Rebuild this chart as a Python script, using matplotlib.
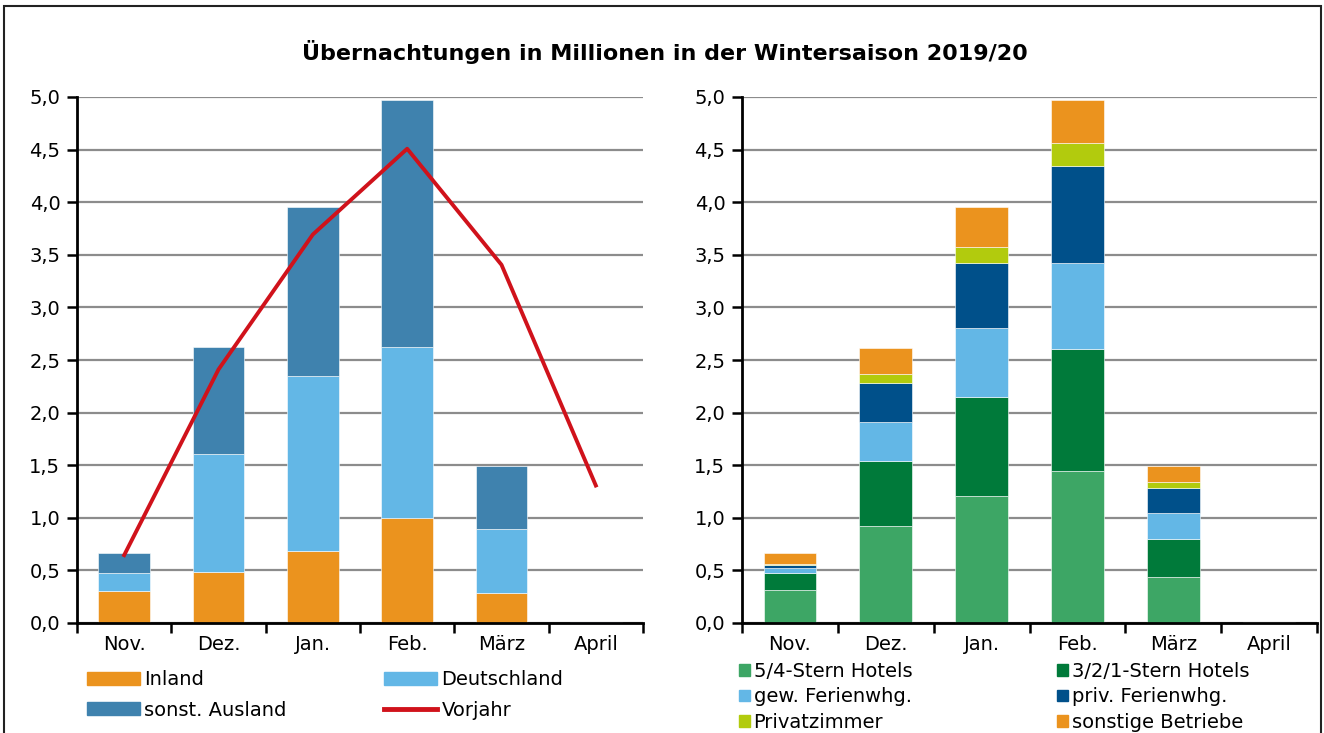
import numpy as np
import matplotlib
matplotlib.use("Agg")
import matplotlib.pyplot as plt
from matplotlib.patches import Patch, Rectangle
from matplotlib.lines import Line2D
from matplotlib.ticker import FuncFormatter, FixedLocator

plt.rcParams['font.family'] = ['DejaVu Sans']

monate = ["Nov.", "Dez.", "Jan.", "Feb.", "März", "April"]

# linke Grafik: Herkunft
inland = [0.305, 0.485, 0.686, 1.001, 0.282, 0.003]
deutschland = [0.167, 1.121, 1.663, 1.619, 0.611, 0.005]
sonst_ausland = [0.190, 1.014, 1.606, 2.350, 0.601, 0.004]
vorjahr = [0.645, 2.41, 3.693, 4.508, 3.405, 1.307]

# rechte Grafik: Unterkunftsart
stern54 = [0.318, 0.923, 1.207, 1.444, 0.439, 0.003]
stern321 = [0.159, 0.615, 0.946, 1.156, 0.355, 0.002]
gew_fewo = [0.047, 0.369, 0.653, 0.821, 0.251, 0.002]
priv_fewo = [0.027, 0.375, 0.619, 0.923, 0.236, 0.001]
privatzimmer = [0.014, 0.088, 0.145, 0.217, 0.058, 0.001]
sonstige = [0.098, 0.247, 0.385, 0.415, 0.155, 0.003]

c_orange = "#EB931E"
c_hblau = "#63B7E6"
c_blau = "#3F82AE"
c_rot = "#D0121B"
c_gruen = "#3DA665"
c_dgruen = "#007A3A"
c_dblau = "#00508A"
c_lime = "#B2CB0D"

W, H = 1324, 733
fig = plt.figure(figsize=(W / 100, H / 100), dpi=100)

def px(x0, y0, x1, y1):
    return [x0 / W, 1 - y1 / H, (x1 - x0) / W, (y1 - y0) / H]

ax1 = fig.add_axes(px(77, 97, 643, 623))
ax2 = fig.add_axes(px(742, 97, 1317, 623))

x = np.arange(len(monate))
bw = 0.55

def style(ax):
    ax.set_xlim(-0.5, len(monate) - 0.5)
    ax.set_ylim(0, 5)
    ax.set_yticks(np.arange(0, 5.01, 0.5))
    ax.yaxis.set_major_formatter(FuncFormatter(lambda v, p: f"{v:.1f}".replace(".", ",")))
    ax.xaxis.set_major_locator(FixedLocator(np.arange(-0.5, len(monate), 1.0)))
    ax.xaxis.set_minor_locator(FixedLocator(x))
    ax.set_xticklabels([])
    ax.set_xticklabels(monate, minor=True)
    ax.tick_params(axis="x", which="major", length=7, width=1.8, direction="out")
    ax.tick_params(axis="x", which="minor", length=0, pad=9, labelsize=14)
    ax.tick_params(axis="y", length=7, width=1.8, direction="out", labelsize=14, pad=5)
    for s in ["top", "right"]:
        ax.spines[s].set_visible(False)
    for s in ["left", "bottom"]:
        ax.spines[s].set_linewidth(2)
    ax.yaxis.grid(True, color="#8c8c8c", linewidth=1.6)
    ax.set_axisbelow(True)

style(ax1)
style(ax2)

# links
bottom = np.zeros(len(monate))
for vals, col in [(inland, c_orange), (deutschland, c_hblau), (sonst_ausland, c_blau)]:
    ax1.bar(x, vals, bw, bottom=bottom, color=col, edgecolor="white", linewidth=0.4)
    bottom += np.array(vals)
ax1.plot(x, vorjahr, color=c_rot, linewidth=2.8, zorder=5)

# rechts
bottom = np.zeros(len(monate))
for vals, col in [(stern54, c_gruen), (stern321, c_dgruen), (gew_fewo, c_hblau),
                  (priv_fewo, c_dblau), (privatzimmer, c_lime), (sonstige, c_orange)]:
    ax2.bar(x, vals, bw, bottom=bottom, color=col, edgecolor="white", linewidth=0.4)
    bottom += np.array(vals)

fig.text(665 / W, 1 - 52 / H, "Übernachtungen in Millionen in der Wintersaison 2019/20",
         ha="center", va="center", fontsize=16, fontweight="bold")

# Legenden links
leg_kw = dict(frameon=False, fontsize=14, handlelength=2.7, handleheight=0.65,
              handletextpad=0.25, labelspacing=0.6, borderpad=0, borderaxespad=0,
              loc="upper left")
fig.legend([Patch(color=c_orange), Patch(color=c_blau)], ["Inland", "sonst. Ausland"],
           bbox_to_anchor=(87 / W, 1 - 670 / H), **leg_kw)
fig.legend([Patch(color=c_hblau), Line2D([], [], color=c_rot, linewidth=3.5)],
           ["Deutschland", "Vorjahr"],
           bbox_to_anchor=(384 / W, 1 - 670 / H), **leg_kw)

# Legenden rechts
leg_kw2 = dict(frameon=False, fontsize=14, handlelength=0.55, handleheight=0.55,
               handletextpad=0.2, labelspacing=0.33, borderpad=0, borderaxespad=0,
               loc="upper left")
fig.legend([Patch(color=c_gruen), Patch(color=c_hblau), Patch(color=c_lime)],
           ["5/4-Stern Hotels", "gew. Ferienwhg.", "Privatzimmer"],
           bbox_to_anchor=(739 / W, 1 - 662 / H), **leg_kw2)
fig.legend([Patch(color=c_dgruen), Patch(color=c_dblau), Patch(color=c_orange)],
           ["3/2/1-Stern Hotels", "priv. Ferienwhg.", "sonstige Betriebe"],
           bbox_to_anchor=(1057 / W, 1 - 662 / H), **leg_kw2)

# Rahmen
fig.patches.append(Rectangle((4 / W, -0.05), (1321 - 4) / W, 1 - 6 / H + 0.05,
                             transform=fig.transFigure, fill=False,
                             edgecolor="#222222", linewidth=1.5))

fig.savefig("out.png", dpi=100)
